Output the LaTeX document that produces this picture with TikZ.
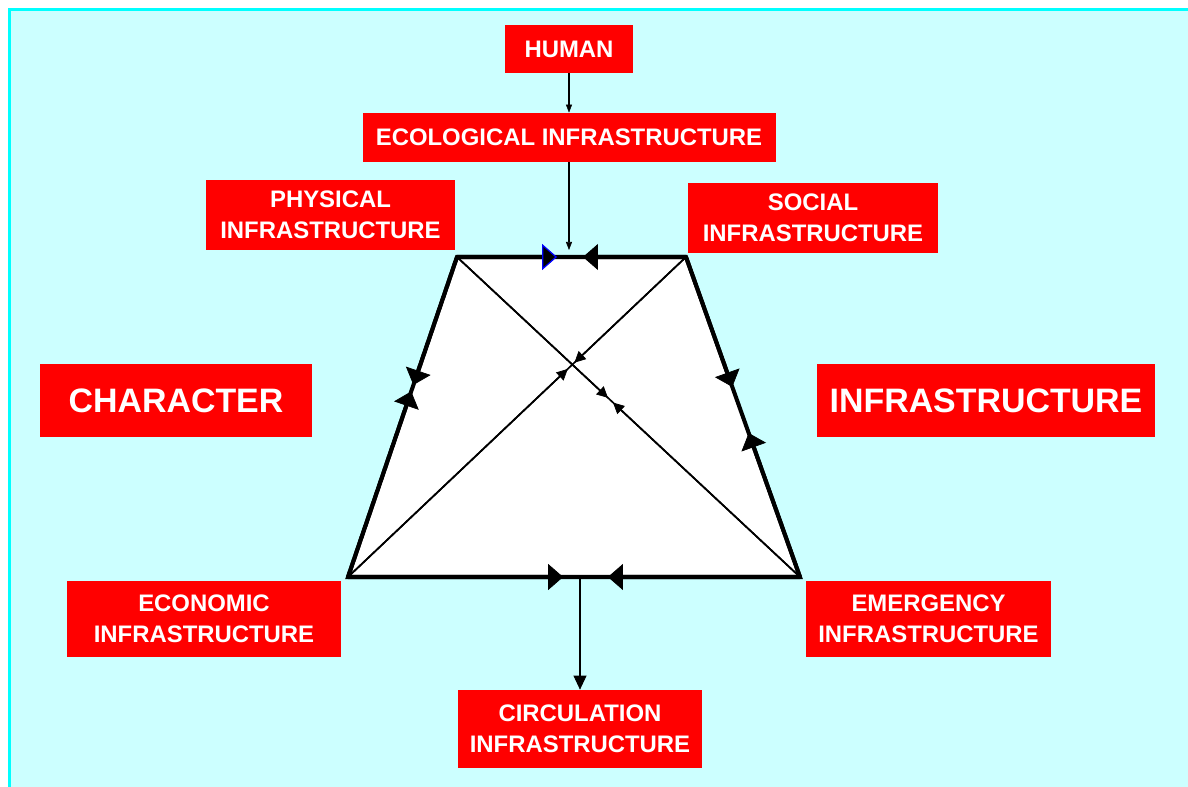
\documentclass[tikz,border=0pt]{standalone}
\usepackage{fontspec}
\setmainfont{Liberation Sans}
\usetikzlibrary{arrows.meta,calc}
\definecolor{boxred}{HTML}{FF0000}
\definecolor{skyfill}{HTML}{CCFFFF}
\definecolor{skyline}{HTML}{00FFFF}
\tikzset{box/.style 2 args={rectangle,fill=boxred,text=white,align=center,inner sep=0pt,
    font=\fontsize{13.6}{17.6}\selectfont\bfseries,minimum width=#1*0.02cm,minimum height=#2*0.02cm}}
\begin{document}
\begin{tikzpicture}[x=0.02cm,y=-0.02cm,
    bigbox/.style 2 args={box={#1}{#2},font=\fontsize{19.3}{23}\selectfont\bfseries},
    side/.style={line width=2.3pt,line join=miter},
    sidearrow/.style={side,-{Triangle[length=0.3cm,width=0.52cm,line width=0.4pt]}},
    diag/.style={line width=0.95pt},
    diagarrow/.style={diag,-{Triangle[length=0.22cm,width=0.22cm,line width=0.4pt]}},
    link/.style={line width=0.6pt,-{Triangle[length=0.16cm,width=0.12cm,line width=0.3pt]}}]
  \useasboundingbox (0,0) rectangle (1188,787);
  \fill[skyfill] (9,9) rectangle (1200,800);
  \draw[skyline,line width=1.7pt] (9.5,800) -- (9.5,9.5) -- (1200,9.5);
  % boxes
  \node[box={128}{48}] (human) at (569,49) {HUMAN};
  \node[box={413}{49}] (eco) at (569,137.5) {ECOLOGICAL INFRASTRUCTURE};
  \node[box={249}{70}] (phys) at (330.5,215) {PHYSICAL\\INFRASTRUCTURE};
  \node[box={250}{70}] (soc) at (813,218) {SOCIAL\\INFRASTRUCTURE};
  \node[bigbox={272}{73}] (char) at (176,400.5) {CHARACTER};
  \node[bigbox={338}{73}] (infra) at (986,400.5) {INFRASTRUCTURE};
  \node[box={274}{76}] (econ) at (204,619) {ECONOMIC\\INFRASTRUCTURE};
  \node[box={245}{76}] (emer) at (928.5,619) {EMERGENCY\\INFRASTRUCTURE};
  \node[box={244}{78}] (circ) at (580,729) {CIRCULATION\\INFRASTRUCTURE};
  % trapezoid
  \coordinate (tl) at (457,257);
  \coordinate (tr) at (686,257);
  \coordinate (br) at (800,577);
  \coordinate (bl) at (348,577);
  \draw[side,fill=white] (tl) -- (tr) -- (br) -- (bl) -- cycle;
  \draw[diag] (tl) -- (br);
  \draw[diag] (tr) -- (bl);
  \draw[side,-{Triangle[length=0.3cm,width=0.52cm,line width=0.7pt,color=blue,fill=black]}] (tl) -- ($(tl)!0.437!(tr)$);
  \draw[sidearrow] (tr) -- ($(tr)!0.45!(tl)$);
  \draw[sidearrow] (tl) -- ($(tl)!0.40!(bl)$);
  \draw[sidearrow] (bl) -- ($(bl)!0.58!(tl)$);
  \draw[sidearrow] (tr) -- ($(tr)!0.406!(br)$);
  \draw[sidearrow] (br) -- ($(br)!0.45!(tr)$);
  \draw[sidearrow] (bl) -- ($(bl)!0.476!(br)$);
  \draw[sidearrow] (br) -- ($(br)!0.425!(bl)$);
  \draw[diagarrow] (tl) -- ($(tl)!0.44!(br)$);
  \draw[diagarrow] (br) -- ($(br)!0.545!(tl)$);
  \draw[diagarrow] (tr) -- ($(tr)!0.33!(bl)$);
  \draw[diagarrow] (bl) -- ($(bl)!0.65!(tr)$);
  % connectors
  \coordinate (drop) at (569,250);
  \coordinate (foot) at (580,577);
  \draw[link] (human) -- (eco);
  \draw[link] (eco) -- (drop);
  \draw[line width=1.1pt,-{Triangle[length=0.28cm,width=0.26cm,line width=0.4pt]}] (foot) -- (circ);
\end{tikzpicture}
\end{document}
